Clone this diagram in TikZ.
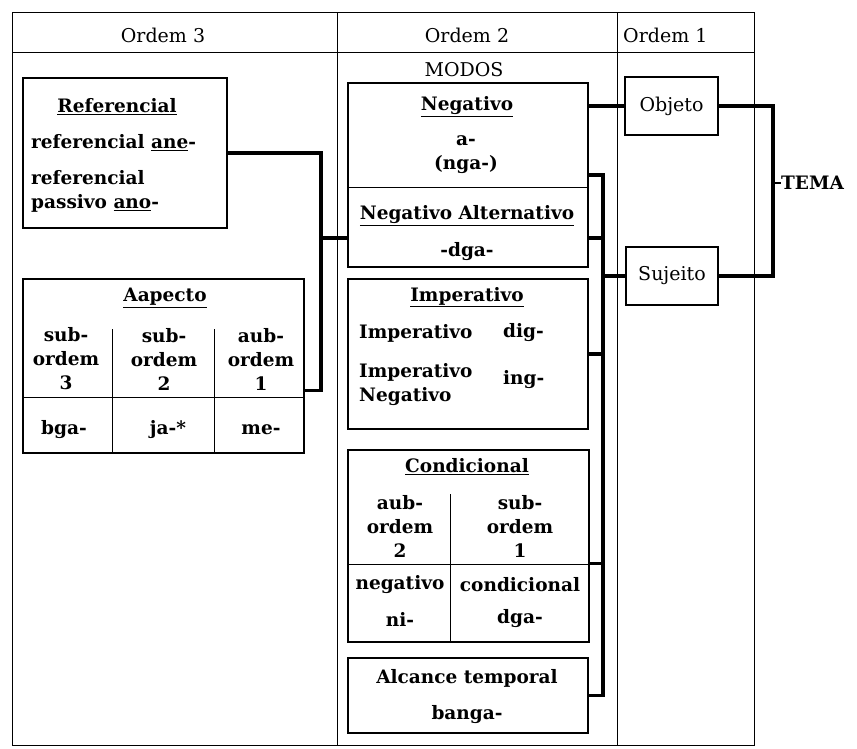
\documentclass[tikz,border=0pt]{standalone}
\usepackage{fontspec}
\setmainfont{DejaVu Serif}
\usetikzlibrary{calc}
\begin{document}
\begin{tikzpicture}[x=1pt,y=-1pt,
  frame/.style={line width=1pt},
  box/.style={draw, line width=1.5pt, inner sep=0pt},
  rule/.style={line width=1.5pt},
  bus/.style={line width=3.3pt},
  txt/.style={font=\fontsize{18.5}{24}\selectfont\bfseries, inner sep=0pt},
  hd/.style={font=\fontsize{19}{24}\selectfont, inner sep=0pt}]
\useasboundingbox (0,0) rectangle (857,748);
\draw[frame] (12,12) rectangle (754,745);
\draw[frame] (12,52) -- (754,52);
\draw[frame] (337,12) -- (337,745);
\draw[frame] (617,12) -- (617,745);
\node[hd] (o3) at (163,35) {Ordem 3};
\node[hd] (o2) at (467,35) {Ordem 2};
\node[hd, anchor=west] (o1) at (623,35) {Ordem 1};
\node[hd] (modos) at (464,70) {MODOS};
% ordem 3
\node[box, minimum width=204pt, minimum height=150pt] (ref) at (125,153) {};
\node[txt] (reft) at (117,107) {\underline{Referencial}};
\node[txt, anchor=west] (ref1) at (31,143) {referencial \underline{ane}-};
\node[txt, anchor=west, align=left] (ref2) at (31,191) {referencial\\passivo \underline{ano}-};
\node[box, minimum width=281pt, minimum height=174pt] (asp) at (163.5,366) {};
\draw[rule] ($(asp.north west)+(0,119)$) -- ($(asp.north east)+(0,119)$);
\draw[rule] ($(asp.north west)+(90,51)$) -- ($(asp.south west)+(90,0)$);
\draw[rule] ($(asp.north west)+(192,51)$) -- ($(asp.south west)+(192,0)$);
\node[txt] (aspt) at (165,298) {\underline{Aapecto}};
\node[txt, align=center] (s3) at (66,359) {sub-\\ordem\\3};
\node[txt, align=center] (s2) at (164,359) {sub-\\ordem\\2};
\node[txt, align=center] (s1) at (261,359) {aub-\\ordem\\1};
\node[txt] (bga) at (64,430) {bga-};
\node[txt] (ja) at (168,430) {ja-*};
\node[txt] (me) at (261,430) {me-};
% ordem 2
\node[box, minimum width=240pt, minimum height=184pt] (neg) at (468,175) {};
\draw[rule] ($(neg.north west)+(0,105)$) -- ($(neg.north east)+(0,105)$);
\node[txt] (negt) at (467,107) {\underline{Negativo}};
\node[txt, align=center] (nga) at (466,155) {a-\\(nga-)};
\node[txt] (altt) at (467,216) {\underline{Negativo Alternativo}};
\node[txt] (dga) at (467,252) {-dga-};
\node[box, minimum width=240pt, minimum height=150pt] (imp) at (468,354) {};
\node[txt] (impt) at (467,297) {\underline{Imperativo}};
\node[txt, anchor=west] (imp1) at (359,333) {Imperativo};
\node[txt, anchor=west] (dig) at (503,333) {dig-};
\node[txt, anchor=west, align=left] (imp2) at (359,385) {Imperativo\\Negativo};
\node[txt, anchor=west] (ing) at (503,380) {ing-};
\node[box, minimum width=241pt, minimum height=192pt] (cond) at (468.5,546) {};
\draw[rule] ($(cond.north west)+(0,115)$) -- ($(cond.north east)+(0,115)$);
\draw[rule] ($(cond.north west)+(103,45)$) -- ($(cond.south west)+(103,0)$);
\node[txt] (condt) at (467,467) {\underline{Condicional}};
\node[txt, align=center] (c2) at (400,526) {aub-\\ordem\\2};
\node[txt, align=center] (c1) at (520,526) {sub-\\ordem\\1};
\node[txt] (cneg) at (400,585) {negativo};
\node[txt] (ccond) at (520,585) {condicional};
\node[txt] (ni) at (400,619) {ni-};
\node[txt] (cdga) at (520,619) {dga-};
\node[box, minimum width=240pt, minimum height=75pt] (alc) at (468,695.5) {};
\node[txt] (alct) at (467,678) {Alcance temporal};
\node[txt] (banga) at (467,715) {banga-};
% ordem 1
\node[box, hd, minimum width=93pt, minimum height=58pt] (obj) at (671.5,106) {Objeto};
\node[box, hd, minimum width=92pt, minimum height=58pt] (suj) at (672,276) {Sujeito};
\coordinate (lj) at (321,238);
\coordinate (rb) at (603,276);
\coordinate (tj) at (773,183);
\node[txt, anchor=west] (tema) at (781,183) {TEMA};
% ligacoes
\draw[bus] (ref.east) -| (lj) |- ($(asp.north east)!0.64!(asp.south east)$);
\draw[bus] (lj) -- (lj -| neg.west);
\draw[bus] (neg.east) -| (rb) |- (alc.east);
\draw[bus] ($(neg.north east)!0.84!(neg.south east)$) -- ++(15,0);
\draw[bus] (imp.east) -- ++(15,0);
\draw[bus] ($(cond.north east)!0.59!(cond.south east)$) -- ++(15,0);
\draw[bus] (rb) -- (suj.west);
\draw[bus] (obj.west -| neg.east) -- (obj.west);
\draw[bus] (obj.east) -| (tj) |- (suj.east);
\draw[line width=2pt] (tj) -- (tema.west);
\end{tikzpicture}
\end{document}
